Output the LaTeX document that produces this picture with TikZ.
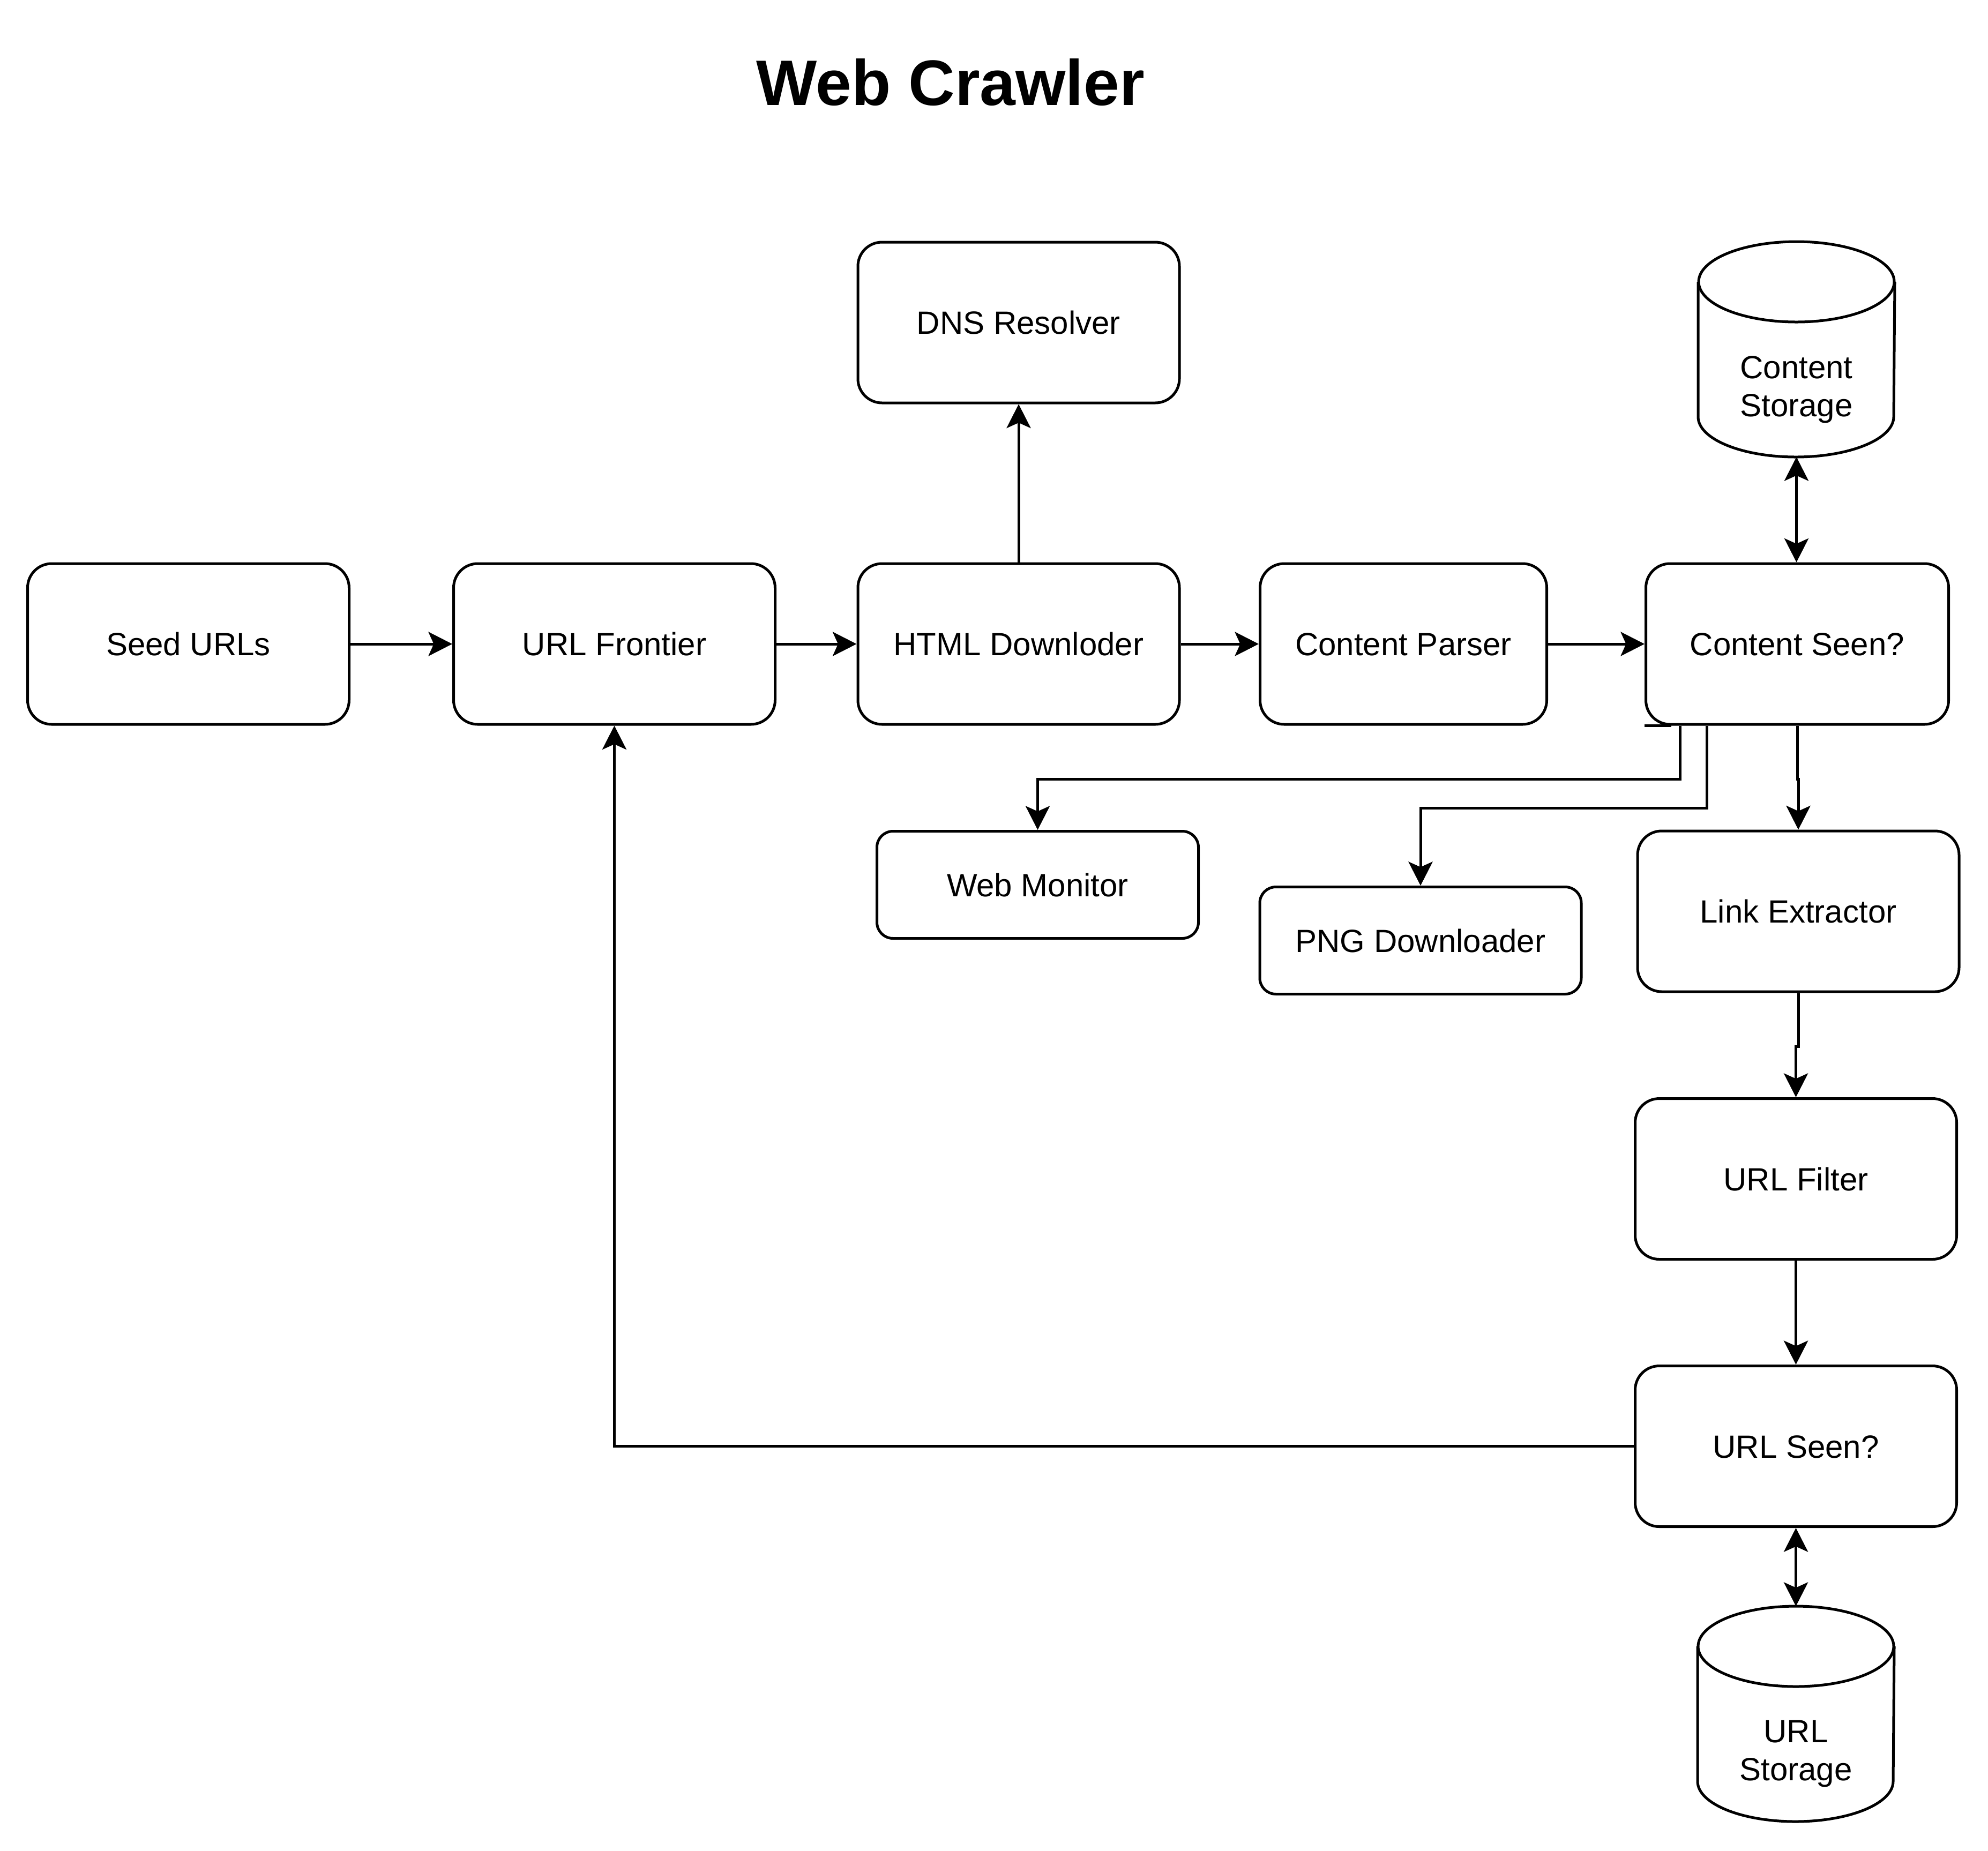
\documentclass[tikz,border=0pt]{standalone}
\usepackage{fontspec}
\setmainfont{Liberation Sans}
\usetikzlibrary{arrows.meta,calc}
\tikzset{
  ln/.style={line width=1pt, black},
  arr/.style={ln, -{Stealth[length=8.9pt, width=9pt, inset=2pt]}},
  darr/.style={ln, {Stealth[length=8.9pt, width=9pt, inset=2pt]}-{Stealth[length=8.9pt, width=9pt, inset=2pt]}},
  txt/.style={font=\fontsize{12}{14.2}\selectfont},
  box/.style={txt, draw, line width=1pt, rounded corners=9pt, minimum width=120pt, minimum height=60pt, inner sep=0pt, text height=8.6pt, text depth=0pt},
  sbox/.style={box, rounded corners=6pt, minimum height=40pt},
  store/.style={minimum width=73pt, minimum height=80pt, inner sep=0pt},
  stxt/.style={txt, align=center, inner sep=0pt}
}
\begin{document}
\begin{tikzpicture}[x=1pt, y=-1pt]
\useasboundingbox (0,0) rectangle (742,691);

\node[font=\fontsize{24}{28}\selectfont\bfseries] (title) at (354.7,30.8) {Web Crawler};

\node[box] (seed) at (70.3,240.4) {Seed URLs};
\node[box] (fr) at (229.3,240.4) {URL Frontier};
\node[box] (html) at (380.2,240.4) {HTML Downloder};
\node[box, minimum width=107pt] (cp) at (523.8,240.4) {Content Parser};
\node[box, minimum width=113pt] (cseen) at (670.8,240.4) {Content Seen?};
\node[box] (dns) at (380.2,120.4) {DNS Resolver};
\node[sbox] (wm) at (387.3,330.3) {Web Monitor};
\node[sbox] (png) at (530.2,351.1) {PNG Downloader};
\node[box] (le) at (671.2,340.2) {Link Extractor};
\node[box] (uf) at (670.3,440.1) {URL Filter};
\node[box] (us) at (670.3,539.9) {URL Seen?};

% cylinders
\node[store] (cst) at (670.5,130.4) {};
\node[store] (ust) at (670.3,639.8) {};
\foreach \c in {cst,ust}{
  \draw[ln] ($(\c.north)+(0,15)$) ellipse [x radius=36.5pt, y radius=15pt];
  \draw[ln] ($(\c.north west)+(0,15)$) -- ($(\c.south west)+(0,-15)$)
     arc [start angle=180, end angle=360, x radius=36.5pt, y radius=15pt]
     -- ($(\c.north east)+(0,15)$);
}
\node[stxt] (cstt) at (670.5,145.4) {Content\\Storage};
\node[stxt] (ustt) at (670.3,654.8) {URL\\Storage};

% connectors
\draw[arr] (seed) -- (fr);
\draw[arr] (fr) -- (html);
\draw[arr] (html) -- (cp);
\draw[arr] (cp) -- (cseen);
\draw[arr] (html.north) -- (dns.south);
\draw[darr] (cst.south) -- (cst.south |- cseen.north);
\draw[ln] (cseen.south west) -- ++(10,0);
\draw[arr] ([xshift=13.3pt]cseen.south west) -- ++(0,19.9) -| (wm.north);
\draw[arr] ([xshift=23.2pt]cseen.south west) -- ++(0,30.8) -| (png.north);
\draw[arr] (cseen.south) -- ++(0,20) -| (le.north);
\draw[arr] (le.south) -- ++(0,20) -| (uf.north);
\draw[arr] (uf.south) -- (us.north);
\draw[darr] (us.south) -- (ust.north);
\draw[arr] (us.west) -| (fr.south);
\end{tikzpicture}
\end{document}
